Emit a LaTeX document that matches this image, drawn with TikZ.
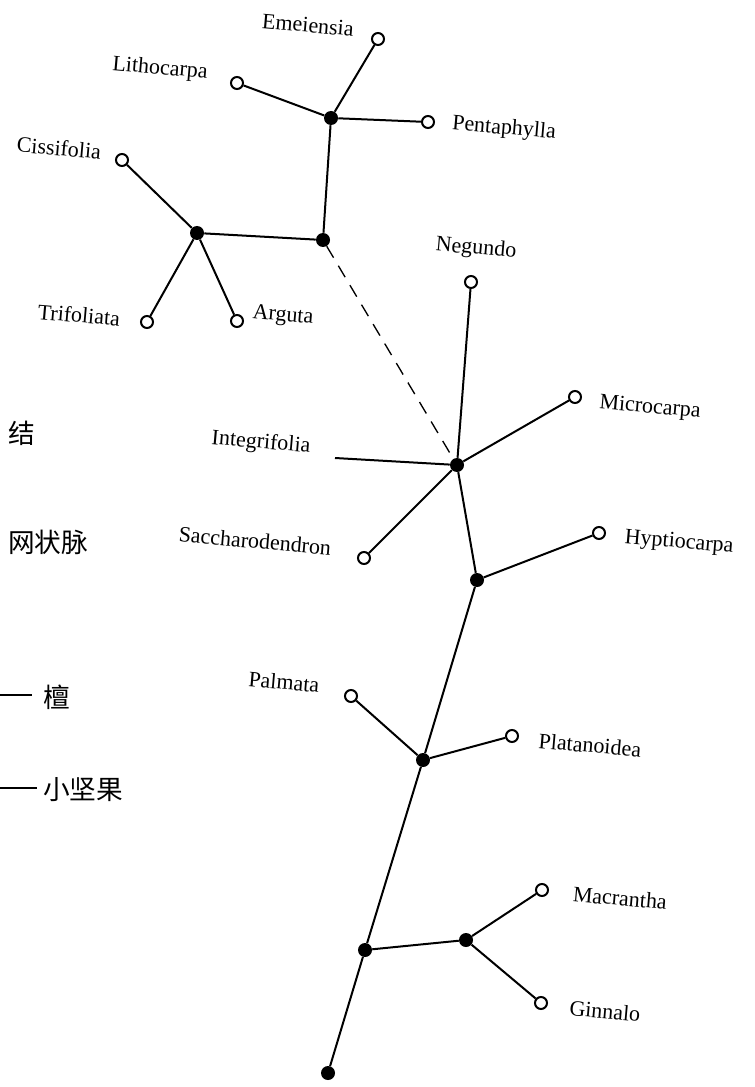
\documentclass[tikz,border=0pt]{standalone}
\usepackage{fontspec}
\setmainfont{Liberation Serif}
\newfontfamily\cjk{Noto Sans CJK SC}
\usetikzlibrary{positioning}

\tikzset{
    leaf/.style={circle, draw, fill=white, line width=1.5pt, inner sep=0pt, minimum size=9pt},
    fork/.style={circle, fill=black, inner sep=0pt, minimum size=10.5pt},
    taxon/.style={font=\fontsize{16.5}{19}\selectfont, rotate=-5, inner sep=0pt},
    note/.style={font=\cjk\fontsize{20}{22}\selectfont, inner sep=0pt},
    branch/.style={line width=1.5pt},
}

\begin{document}
\begin{tikzpicture}[x=0.75pt, y=-0.75pt]
        \useasboundingbox (0,0) rectangle (754,1087);

        % Draw the forks
        \node[fork] (a)    at (331,118)  {};
        \node[fork] (b)    at (323,240)  {};
        \node[fork] (c)    at (197,233)  {};
        \node[fork] (d)    at (457,465)  {};
        \node[fork] (e)    at (477,580)  {};
        \node[fork] (f)    at (423,760)  {};
        \node[fork] (g)    at (365,950)  {};
        \node[fork] (h)    at (466,940)  {};
        \node[fork] (root) at (328,1073) {};

        % Draw the leaves
        \node[leaf] (eme)  at (378,39)   {};
        \node[leaf] (lit)  at (237,83)   {};
        \node[leaf] (pen)  at (428,122)  {};
        \node[leaf] (cis)  at (122,160)  {};
        \node[leaf] (tri)  at (147,322)  {};
        \node[leaf] (arg)  at (237,321)  {};
        \node[leaf] (neg)  at (471,282)  {};
        \node[leaf] (mic)  at (575,397)  {};
        \coordinate (int)  at (335,458);
        \node[leaf] (sac)  at (364,558)  {};
        \node[leaf] (hyp)  at (599,533)  {};
        \node[leaf] (pal)  at (351,696)  {};
        \node[leaf] (pla)  at (512,736)  {};
        \node[leaf] (mac)  at (542,890)  {};
        \node[leaf] (gin)  at (541,1003) {};

        % Names of the taxa
        \node[taxon] (eme-t) at (308,25)   {Emeiensia};
        \node[taxon] (lit-t) at (160,69)   {Lithocarpa};
        \node[taxon] (pen-t) at (504,129)  {Pentaphylla};
        \node[taxon] (cis-t) at (59,148)   {Cissifolia};
        \node[taxon] (tri-t) at (79,315)   {Trifoliata};
        \node[taxon] (arg-t) at (283,316)  {Arguta};
        \node[taxon] (neg-t) at (476,249)  {Negundo};
        \node[taxon] (mic-t) at (650,408)  {Microcarpa};
        \node[taxon] (int-t) at (261,443)  {Integrifolia};
        \node[taxon] (sac-t) at (255,541)  {Saccharodendron};
        \node[taxon] (hyp-t) at (679,543)  {Hyptiocarpa};
        \node[taxon] (pal-t) at (284,682)  {Palmata};
        \node[taxon] (pla-t) at (590,745)  {Platanoidea};
        \node[taxon] (mac-t) at (620,898)  {Macrantha};
        \node[taxon] (gin-t) at (605,1011) {Ginnalo};

        % Notes on the left margin
        \node[note, anchor=west] (n1) at (8,433)  {结};
        \node[note, anchor=west] (n2) at (8,542)  {网状脉};
        \node[note, anchor=west] (n3) at (43,697) {檀};
        \node[note, anchor=west] (n4) at (43,790) {小坚果};
        \coordinate (n3-l) at (0,695);
        \coordinate (n4-l) at (0,788);
        \draw[line width=1.3pt] (n3-l) -- ++(32,0);
        \draw[line width=1.3pt] (n4-l) -- ++(37,0);

        % Connect the tree
        \draw[branch]
            (eme) -- (a)
            (lit) -- (a)
            (pen) -- (a)
            (a) -- (b)
            (b) -- (c)
            (cis) -- (c)
            (tri) -- (c)
            (arg) -- (c)
            (neg) -- (d)
            (mic) -- (d)
            (int) -- (d)
            (sac) -- (d)
            (d) -- (e)
            (hyp) -- (e)
            (e) -- (f)
            (pal) -- (f)
            (pla) -- (f)
            (f) -- (g)
            (g) -- (h)
            (mac) -- (h)
            (gin) -- (h)
            (g) -- (root);

        \draw[line width=1pt, dash pattern=on 10pt off 7pt] (b) -- (d);
\end{tikzpicture}
\end{document}
